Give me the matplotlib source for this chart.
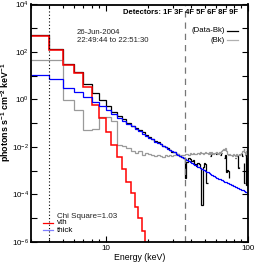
import numpy as np
import matplotlib
matplotlib.use("Agg")
import matplotlib.pyplot as plt
from matplotlib.ticker import FixedLocator, FixedFormatter, NullFormatter

plt.rcParams['font.family'] = ['Liberation Sans', 'DejaVu Sans']
plt.rcParams['mathtext.fontset'] = 'custom'
plt.rcParams['mathtext.rm'] = 'Liberation Sans'
plt.rcParams['mathtext.it'] = 'Liberation Sans:italic'
plt.rcParams['mathtext.bf'] = 'Liberation Sans:bold'

# energy bin edges (keV), 1 keV bins
edges = np.arange(3, 101)

# thermal model (vth), bins 3..19 keV
vth_edges = np.arange(3, 21)
vth = [480, 122, 29, 13, 3.5, 0.6, 0.17, 0.044, 0.0124, 0.0039, 0.0012,
       3.5e-4, 1.2e-4, 3.1e-5, 1.07e-5, 3.0e-6, 3e-7]

# thick-target model, bins 3..99 keV
thick = [11.0, 7.4, 3.1, 2.1, 1.3, 0.79, 0.51, 0.35, 0.24, 0.17,
         0.13, 0.095, 0.074, 0.058, 0.046, 0.037, 0.030, 0.025, 0.021, 0.017,
         0.015, 0.013, 0.011, 0.0098, 0.0085, 0.0074, 0.0066, 0.0059, 0.0052, 0.0047,
         0.0042, 0.0038, 0.0034, 0.0031, 0.0028, 0.0026, 0.0023, 0.0021, 0.0019, 0.0018,
         0.0017, 0.0015, 0.0014, 0.0013, 0.0012, 0.00112, 0.00105, 0.00098, 0.00091, 0.00085,
         0.00079, 0.00074, 0.00069, 0.00066, 0.00062, 0.00058, 0.00055, 0.00051, 0.00049, 0.00047,
         0.00045, 0.00043, 0.00041, 0.00039, 0.00037, 0.00035, 0.000347, 0.00033, 0.00032, 0.00030,
         0.00029, 0.00028, 0.00027, 0.00026, 0.00025, 0.00024, 0.00023, 0.00022, 0.000216, 0.00021,
         0.00020, 0.000195, 0.000186, 0.000182, 0.000176, 0.00017, 0.000166, 0.000158, 0.000155, 0.000151,
         0.000145, 0.000141, 0.000138, 0.000132, 0.000129, 0.000126, 0.00012]

nan = np.nan
# background-subtracted data, bins 3..99 keV (nan = not plotted)
data_bk = [500, 135, 32, 15, 4.5, 1.9, 0.95, 0.55, 0.30, 0.20,
           0.145, 0.105, 0.08, 0.063, 0.05, 0.041, 0.032, 0.027, 0.022, 0.018,
           0.016, 0.013, 0.0115, 0.0102, 0.0088, 0.0078, 0.0064, 0.0062, 0.0050, 0.0049,
           0.0040, 0.0039, 0.0033, 5.0e-4, 2.4e-3, 3.5e-3, 3.0e-3, 2.5e-3, 2.8e-3, 2.0e-3,
           1.6e-3, 2.2e-3, 2.0e-3, 1.3e-3, 3.5e-5, 1.5e-3, 2.2e-3, 2.0e-3, 3.2e-4, nan,
           nan, 4.0e-3, 5.0e-3, nan, nan, nan, 5.5e-3, 5.0e-3, nan, nan,
           nan, 4.8e-3, 5.5e-3, nan, nan, 3.6e-3, 4.5e-3, 9.0e-4, 1.1e-3, 1.0e-3,
           5.0e-4, nan, nan, nan, 2.5e-4, 2.5e-4, nan, nan, 3.5e-3, nan,
           nan, 4.2e-3, 1.3e-3, 1.5e-3, nan, nan, nan, 5.0e-3, 4.0e-3, nan,
           2.2e-3, 3.0e-4, nan, 4.4e-3, 2.5e-4, 3.0e-4, 3.5e-3]

# background, bins 3..99 keV
bkg = [48, 45, 0.93, 0.37, 0.054, 0.06, 0.19, 0.19, 0.13, 0.0126,
       0.011, 0.0095, 0.0065, 0.0055, 0.0065, 0.0048, 0.0055, 0.0050, 0.0046, 0.0040,
       0.0044, 0.0042, 0.0038, 0.0045, 0.0043, 0.0048, 0.0041, 0.0046, 0.0044, 0.0050,
       0.0043, 0.0047, 0.0045, 0.0049, 0.0052, 0.0046, 0.0055, 0.0050, 0.0058, 0.0053,
       0.0049, 0.0056, 0.0051, 0.0060, 0.0054, 0.0050, 0.0057, 0.0062, 0.0055, 0.0052,
       0.0059, 0.0053, 0.0061, 0.0056, 0.0050, 0.0058, 0.0054, 0.0063, 0.0057, 0.0052,
       0.0060, 0.0055, 0.0066, 0.0072, 0.0080, 0.0075, 0.0090, 0.0070, 0.0052, 0.0048,
       0.0045, 0.0050, 0.0044, 0.0047, 0.0042, 0.0046, 0.0049, 0.0045, 0.0043, 0.0048,
       0.0051, 0.0046, 0.0044, 0.0049, 0.0047, 0.0052, 0.0050, 0.0058, 0.0065, 0.0070,
       0.0085, 0.0060, 0.0055, 0.0052, 0.0070, 0.0090, 0.0060]

low_cut = 4.0
high_cut = 36.3
ytick_exp = [-6, -5, -4, -3, -2, -1, 0, 1, 2, 3, 4]

W, H = 256, 266
fig = plt.figure(figsize=(W / 100, H / 100), dpi=100)
ax = fig.add_axes([31 / W, 1 - 242 / H, (248 - 31) / W, (242 - 4.5) / H])

lw = 0.9


def stairs_runs(values, edg, **kw):
    """draw contiguous non-nan runs of a stepped histogram"""
    v = np.asarray(values, dtype=float)
    ok = ~np.isnan(v)
    i = 0
    n = len(v)
    while i < n:
        if not ok[i]:
            i += 1
            continue
        j = i
        while j < n and ok[j]:
            j += 1
        ax.stairs(v[i:j], edg[i:j + 1], baseline=None, **kw)
        i = j


stairs_runs(data_bk, edges, color='black', lw=lw)
ax.stairs(bkg, edges, color='#9a9a9a', lw=lw, baseline=None)
ax.stairs(vth, vth_edges, color='#ff0000', lw=lw + 0.2, baseline=None)
ax.stairs(thick, edges, color='#0000ff', lw=lw, baseline=None)

ax.axvline(low_cut, color='black', ls=(0, (1, 2)), lw=0.8)
ax.axvline(high_cut, color='#777777', ls=(0, (5, 4)), lw=0.9)

ax.set_xscale('log')
ax.set_yscale('log')
ax.set_xlim(3, 100)
ax.set_ylim(1e-6, 1e4)

ax.yaxis.set_major_locator(FixedLocator([10.0 ** e for e in ytick_exp]))
ax.yaxis.set_major_formatter(FixedFormatter(
    [r'$10^{%d}$' % e if e % 2 == 0 else '' for e in ytick_exp]))
ax.yaxis.set_minor_locator(FixedLocator([]))
ax.xaxis.set_major_locator(FixedLocator([10, 100]))
ax.xaxis.set_major_formatter(FixedFormatter(['10', '100']))
ax.xaxis.set_minor_locator(FixedLocator([3, 4, 5, 6, 7, 8, 9, 20, 30, 40, 50, 60, 70, 80, 90]))
ax.xaxis.set_minor_formatter(NullFormatter())

ax.tick_params(which='both', direction='in', top=True, right=True, labelsize=5.8, pad=2,
               width=0.8)
ax.tick_params(axis='y', pad=1.5)
ax.tick_params(which='major', length=4)
ax.tick_params(which='minor', length=2.2)
for s in ax.spines.values():
    s.set_linewidth(1.3)

ax.set_xlabel('Energy (keV)', fontsize=6.3, labelpad=1)


def ftext(x, y, s, **kw):
    fig.text(x / W, 1 - y / H, s, **kw)


ftext(6, 112, r'photons s$^{\mathbf{-1}}$ cm$^{\mathbf{-2}}$ keV$^{\mathbf{-1}}$', fontsize=6.4,
      fontweight='bold', rotation=90, ha='center', va='center')
ftext(238, 13, 'Detectors: 1F 3F 4F 5F 6F 8F 9F', fontsize=5.5, fontweight='bold',
      ha='right', va='center')
ftext(77, 32, '26-Jun-2004', fontsize=5.6, ha='left', va='center', color='#222222')
ftext(77, 41, '22:49:44 to 22:51:30', fontsize=5.6, ha='left', va='center', color='#222222')
ftext(225, 31, '(Data-Bk)', fontsize=5.6, ha='right', va='center')
ftext(225, 40, '(Bk)', fontsize=5.6, ha='right', va='center')
fig.add_artist(plt.Line2D([227 / W, 238 / W], [1 - 31 / H, 1 - 31 / H], color='black', lw=0.9))
fig.add_artist(plt.Line2D([227 / W, 238 / W], [1 - 40 / H, 1 - 40 / H], color='#b0b0b0', lw=0.9))

ftext(57, 216, 'Chi Square=1.03', fontsize=5.8, ha='left', va='center', color='#222222')
fig.add_artist(plt.Line2D([43 / W, 53 / W], [1 - 223 / H, 1 - 223 / H], color='#ff0000', lw=0.9))
fig.add_artist(plt.Line2D([43 / W, 53 / W], [1 - 230 / H, 1 - 230 / H], color='#8080ff', lw=0.9))
ftext(57, 223, 'vth', fontsize=5.8, ha='left', va='center')
ftext(57, 230, 'thick', fontsize=5.8, ha='left', va='center')

fig.savefig('out.png', dpi=100)
